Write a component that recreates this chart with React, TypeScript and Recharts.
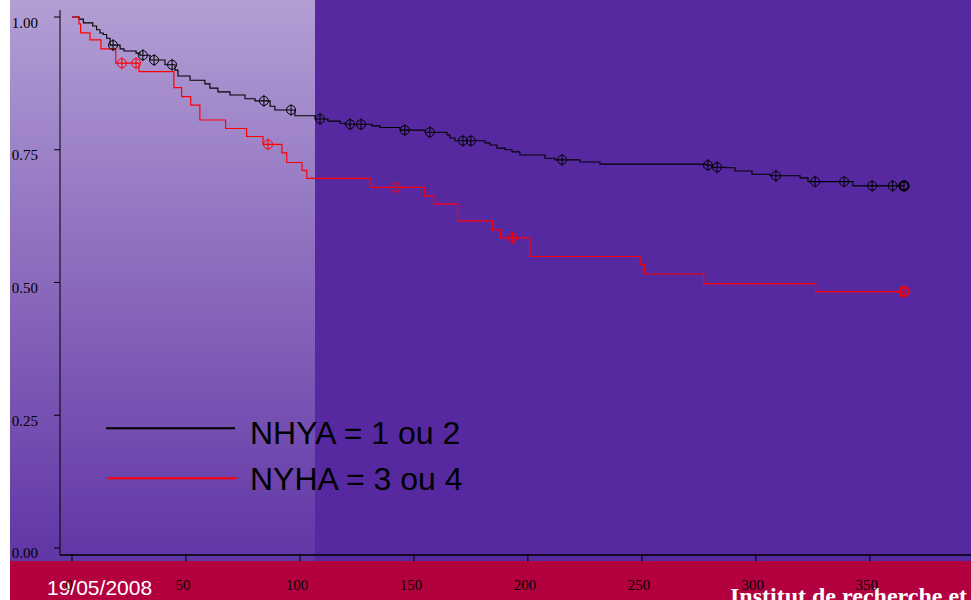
import { ComposedChart, Line, Scatter, XAxis, YAxis } from "recharts";

// Kaplan-Meier steps (time in days, survival)
const blackTimes = [0, 3.1, 5.0, 9.1, 10.8, 12.3, 13.7, 15.2, 16.7, 21.1, 22.8, 28.1, 29.8, 34.2, 40.8, 45.2, 46.5, 51.8, 58.3, 60.5, 64.0, 69.3, 75.9, 80.3, 86.9, 89.0, 97.8, 106.6, 112.3, 117.6, 119.8, 131.6, 135.1, 143.9, 154.9, 164.5, 165.8, 168.0, 181.2, 183.4, 186.4, 190.0, 193.0, 196.5, 207.5, 211.9, 222.8, 231.6, 278.1, 280.7, 286.4, 290.8, 298.3, 306.2, 319.4, 322.9, 342.6, 365];
const blackSurv = [1.0, 0.996, 0.989, 0.983, 0.976, 0.970, 0.967, 0.960, 0.947, 0.940, 0.936, 0.932, 0.928, 0.919, 0.910, 0.900, 0.889, 0.881, 0.874, 0.866, 0.859, 0.853, 0.846, 0.842, 0.832, 0.825, 0.814, 0.808, 0.804, 0.800, 0.798, 0.795, 0.792, 0.787, 0.783, 0.778, 0.772, 0.767, 0.763, 0.759, 0.753, 0.750, 0.746, 0.740, 0.734, 0.731, 0.727, 0.723, 0.721, 0.717, 0.716, 0.710, 0.704, 0.701, 0.697, 0.690, 0.682, 0.682];
const blackCensored = [18.0, 31.1, 36.0, 43.9, 84.2, 96.1, 108.8, 122.0, 126.8, 146.0, 157.0, 171.5, 175.0, 215.0, 279.0, 283.0, 308.8, 326.0, 338.7, 351.0, 360.0, 365];

const redTimes = [0, 3.1, 3.8, 7.9, 12.7, 19.2, 29.4, 44.7, 48.1, 52.1, 56.1, 67.4, 76.6, 83.8, 92.1, 94.2, 100.9, 103.0, 131.2, 154.5, 158.7, 169.2, 184.4, 187.9, 200.9, 249.2, 251.2, 277.1, 326.2, 365];
const redSurv = [1.0, 0.987, 0.970, 0.957, 0.940, 0.913, 0.897, 0.867, 0.850, 0.834, 0.806, 0.790, 0.775, 0.760, 0.744, 0.726, 0.711, 0.696, 0.679, 0.663, 0.648, 0.616, 0.599, 0.584, 0.549, 0.534, 0.516, 0.498, 0.483, 0.483];
const redCensored = [21.9, 28.1, 86.0, 142.0, 193.2, 365];

const xTicks = [0, 50, 100, 150, 200, 250, 300, 350];
const yTicks = [0, 0.25, 0.5, 0.75, 1];
const seriesNames = ["NHYA = 1 ou 2", "NYHA = 3 ou 4"];

const toRows = (ts: number[], ss: number[]) => ts.map((t, i) => ({ t, s: ss[i] }));
const survAt = (ts: number[], ss: number[], t: number) => {
    let v = ss[0];
    ts.forEach((tt, i) => { if (tt <= t) v = ss[i]; });
    return v;
};
const censorRows = (cs: number[], ts: number[], ss: number[]) => cs.map((t) => ({ t, s: survAt(ts, ss, t) }));

const blackData = toRows(blackTimes, blackSurv);
const redData = toRows(redTimes, redSurv);
const blackMarks = censorRows(blackCensored, blackTimes, blackSurv);
const redMarks = censorRows(redCensored, redTimes, redSurv);

const serif = "'Liberation Serif', 'Times New Roman', serif";
const sans = "'Liberation Sans', Arial, sans-serif";

const mark = (color: string) => (props: any) => {
    const { cx, cy, payload } = props;
    const last = payload && payload.t >= 365;
    return (
        <g>
            <circle cx={cx} cy={cy} r={4.5} fill="none" stroke={color} strokeWidth={last ? 2.2 : 1} />
            <line x1={cx} y1={cy - 6} x2={cx} y2={cy + 6} stroke={color} strokeWidth={1} />
        </g>
    );
};

const XTick = (props: any) => {
    const { x, payload } = props;
    return (
        <text x={x - 3} y={590} textAnchor="middle" fontFamily={serif} fontSize={15} fill="#000">
            {payload.value}
        </text>
    );
};

const YTick = (props: any) => {
    const { y, payload } = props;
    return (
        <text x={38} y={y + 10.5} textAnchor="end" fontFamily={serif} fontSize={15} fill="#000">
            {Number(payload.value).toFixed(2)}
        </text>
    );
};

const KmLegend = () => (
    <svg width={380} height={95} style={{ position: "absolute", left: 100, top: 405 }}>
        <line x1={6} y1={23.3} x2={135} y2={23.3} stroke="#000" strokeWidth={2} />
        <text x={150} y={39} fontFamily={sans} fontSize={32} fill="#000">{seriesNames[0]}</text>
        <line x1={7.7} y1={73.3} x2={136.7} y2={73.3} stroke="#ff0000" strokeWidth={2} />
        <text x={150} y={85} fontFamily={sans} fontSize={32} fill="#000">{seriesNames[1]}</text>
    </svg>
);

export default function App() {
    return (
        <div style={{ position: "absolute", left: 0, top: 0, width: 971, height: 600, overflow: "hidden", background: "#fff" }}>
            <div style={{ position: "absolute", left: 10, top: 0, width: 961, height: 600, background: "#5729a0" }} />
            <div style={{ position: "absolute", left: 10, top: 0, width: 305, height: 561, background: "linear-gradient(to bottom, rgba(255,255,255,0.55), rgba(255,255,255,0.06))" }} />
            <div style={{ position: "absolute", left: 10, top: 561, width: 961, height: 39, background: "#b3003f" }} />
            <div style={{ position: "absolute", left: 47, top: 576, fontFamily: sans, fontSize: 21, color: "#fff", lineHeight: "24px" }}>19/05/2008</div>
            <div style={{ position: "absolute", left: 730, top: 582, fontFamily: serif, fontSize: 24, fontWeight: "bold", color: "#fff", lineHeight: "28px", whiteSpace: "nowrap" }}>Institut de recherche et</div>
            <div style={{ position: "absolute", left: 0, top: 0 }}>
                <ComposedChart width={1000} height={600} margin={{ top: 10, right: 0, bottom: 0, left: 0 }}>
                    <XAxis dataKey="t" type="number" domain={[-5.26, 407.1]} allowDataOverflow ticks={xTicks}
                        height={45} tickSize={7} tick={<XTick />} stroke="#000" axisLine={{ stroke: "#000", strokeWidth: 1.6 }} tickLine={{ stroke: "#000" }} />
                    <XAxis xAxisId="top" orientation="top" dataKey="t" type="number" domain={[-5.26, 407.1]} allowDataOverflow
                        height={0} tick={false} tickLine={false} axisLine={{ stroke: "#000" }} />
                    <YAxis dataKey="s" type="number" domain={[-0.0132, 1.0132]} allowDataOverflow ticks={yTicks}
                        width={60} tickSize={6} tick={<YTick />} axisLine={{ stroke: "#000" }} tickLine={{ stroke: "#000" }} />
                    <Line data={blackData} dataKey="s" type="stepAfter" stroke="#000" strokeWidth={1.1} dot={false} isAnimationActive={false} />
                    <Line data={redData} dataKey="s" type="stepAfter" stroke="#ff0000" strokeWidth={1.2} dot={false} isAnimationActive={false} />
                    <Scatter data={blackMarks} dataKey="s" shape={mark("#000")} isAnimationActive={false} />
                    <Scatter data={redMarks} dataKey="s" shape={mark("#ff0000")} isAnimationActive={false} />
                </ComposedChart>
            </div>
            <KmLegend />
        </div>
    );
}
